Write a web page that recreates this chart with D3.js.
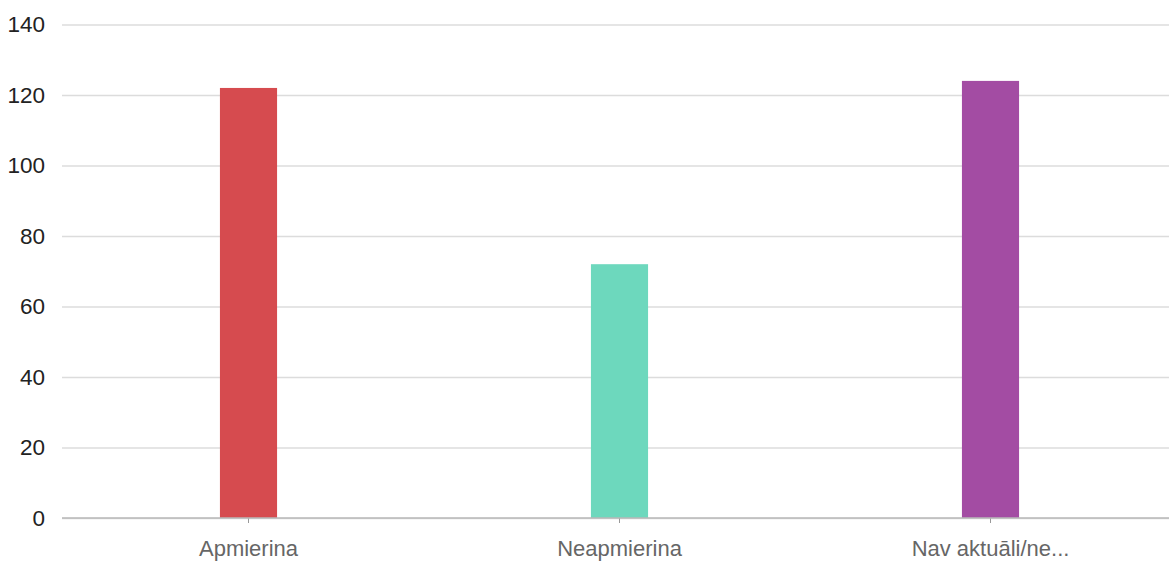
<!DOCTYPE html>
<html><head><meta charset="utf-8">
<script src="https://cdn.jsdelivr.net/npm/d3@7"></script>
<style>
html,body{margin:0;padding:0;background:#fff;}
svg{display:block;}
</style></head>
<body>
<svg id="chart" width="1169" height="562"></svg>
<script>
const categories = ["Apmierina", "Neapmierina", "Nav aktuāli/ne..."];
const values = [122, 72, 124];
const colors = ["#d64b4f", "#6dd8bd", "#a34ca3"];
const yTicks = [0, 20, 40, 60, 80, 100, 120, 140];

const W = 1169, H = 562;
const m = {left: 62, right: -7, top: 24.5, bottom: 44};
const svg = d3.select("#chart");
const font = "'Liberation Sans Narrow', 'Arial Narrow', 'Liberation Sans', Arial, sans-serif";

const x = d3.scaleBand().domain(categories).range([m.left + 1, W - m.right]).padding(0);
const y = d3.scaleLinear().domain([0, 140]).range([H - m.bottom, m.top]);

// gridlines
const yAxis = d3.axisLeft(y).tickValues(yTicks).tickSize(-(W - m.left)).tickPadding(17);
const gy = svg.append("g").attr("transform", `translate(${m.left},0)`).call(yAxis);
gy.select(".domain").remove();
gy.selectAll(".tick line").attr("stroke", "#dcdcdc").attr("stroke-width", 1.5);
gy.selectAll(".tick text").attr("fill", "#222").attr("font-size", 22.5).attr("font-family", font)
  .style("font-stretch", "condensed");

// bars
const bw = x.bandwidth() * 0.154;
svg.append("g").selectAll("rect").data(values).join("rect")
  .attr("x", (d, i) => x(categories[i]) + x.bandwidth() / 2 - bw / 2)
  .attr("y", d => y(d))
  .attr("width", bw)
  .attr("height", d => y(0) - y(d))
  .attr("fill", (d, i) => colors[i]);

// x axis
const xAxis = d3.axisBottom(x).tickSize(5).tickPadding(17);
const gx = svg.append("g").attr("transform", `translate(0,${y(0)})`).call(xAxis);
gx.select(".domain").remove();
gx.append("line").attr("x1", m.left).attr("x2", W).attr("y1", 0).attr("y2", 0)
  .attr("stroke", "#b8b8b8").attr("stroke-width", 1.5);
gx.selectAll(".tick line").attr("stroke", "#999");
gx.selectAll(".tick text").attr("fill", "#666").attr("font-size", 22).attr("font-family", font)
  .style("font-stretch", "condensed");
</script>
</body></html>
